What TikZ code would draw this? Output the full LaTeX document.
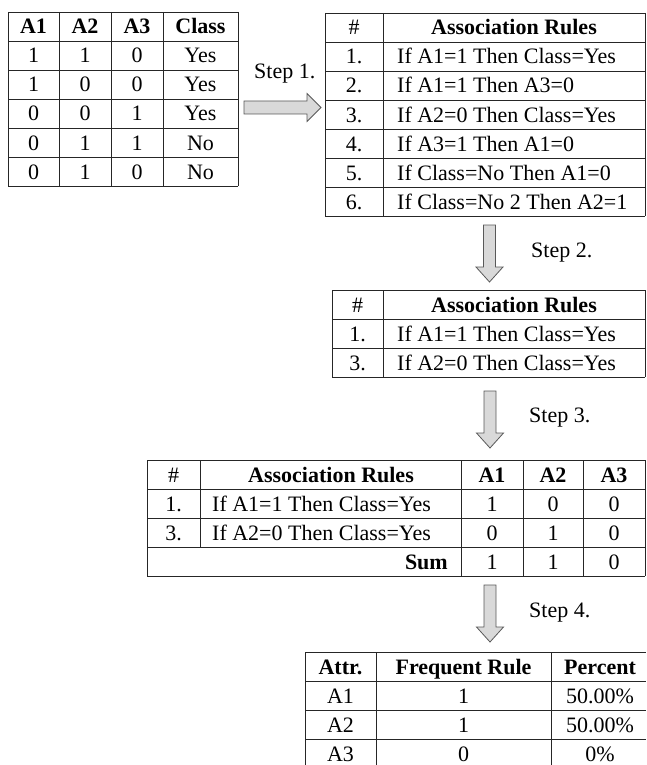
\documentclass[tikz,border=0pt]{standalone}
\usepackage{fontspec}
\setmainfont{Liberation Serif}
\begin{document}
\begin{tikzpicture}[x=1pt,y=-1pt,
  grid/.style={draw=black!85,line width=0.9pt},
  cell/.style={anchor=base,inner sep=0pt,font=\fontsize{22}{26}\selectfont},
  head/.style={cell,font=\fontsize{22}{26}\selectfont\bfseries},
  ruletext/.style={cell,anchor=base west},
  blockarrow/.style={draw=black!65,fill=black!15,line width=0.8pt,line join=miter},
  steplabel/.style={anchor=base west,inner sep=0pt,font=\fontsize{22}{26}\selectfont}]
\useasboundingbox (0,0) rectangle (646,765);

% ---------- Table 1 (data) ----------
\foreach \x in {8,59,111,163,238} \draw[grid] (\x,12) -- (\x,186);
\foreach \y in {12,41,70,99,128,157,186} \draw[grid] (8,\y) -- (238,\y);
\node[head] (t1hA) at (33.5,34) {A1};
\node[head] (t1hB) at (85,34) {A2};
\node[head] (t1hC) at (137,34) {A3};
\node[head] (t1hD) at (200.5,34) {Class};
\foreach [count=\r] \a/\b/\c/\d in {1/1/0/Yes,1/0/0/Yes,0/0/1/Yes,0/1/1/No,0/1/0/No}{
  \pgfmathsetmacro\yb{34+29*\r}
  \node[cell] (t1r\r a) at (33.5,\yb) {\a};
  \node[cell] (t1r\r b) at (85,\yb) {\b};
  \node[cell] (t1r\r c) at (137,\yb) {\c};
  \node[cell] (t1r\r d) at (200.5,\yb) {\d};
}

% ---------- Step 1 arrow ----------
\coordinate (s1a) at (244,107.5);
\coordinate (s1b) at (321,107.5);
\draw[blockarrow] ([yshift=-6.5pt]s1a) -- ([xshift=-14pt,yshift=-6.5pt]s1b) -- ([xshift=-14pt,yshift=-14pt]s1b)
  -- (s1b) -- ([xshift=-14pt,yshift=14pt]s1b) -- ([xshift=-14pt,yshift=6.5pt]s1b) -- ([yshift=6.5pt]s1a) -- cycle;
\node[steplabel] (step1) at (254,79) {Step 1.};

% ---------- Table 2 (all rules) ----------
\foreach \x in {325,383,645} \draw[grid] (\x,13) -- (\x,216);
\foreach \y in {13,42,71,100,129,158,187,216} \draw[grid] (325,\y) -- (645,\y);
\node[cell] (t2hn) at (354,35) {\#};
\node[head] (t2hr) at (514,35) {Association Rules};
\foreach [count=\r] \n/\t in {1./If A1=1 Then Class=Yes,2./If A1=1 Then A3=0,3./If A2=0 Then Class=Yes,4./If A3=1 Then A1=0,5./If Class=No Then A1=0,6./If Class=No 2 Then A2=1}{
  \pgfmathsetmacro\yb{35+29*\r}
  \node[cell] (t2n\r) at (354,\yb) {\n};
  \node[ruletext] (t2t\r) at (397,\yb) {\t};
}

% ---------- Step 2 arrow ----------
\draw[blockarrow] (483.5,225) -- (495.5,225) -- (495.5,267) -- (503,267) -- (489.5,282) -- (476,267) -- (483.5,267) -- cycle;
\node[steplabel] (step2) at (531,257) {Step 2.};

% ---------- Table 3 (selected rules) ----------
\foreach \x in {332,383,645} \draw[grid] (\x,290) -- (\x,377);
\foreach \y in {290,319,348,377} \draw[grid] (332,\y) -- (645,\y);
\node[cell] (t3hn) at (357.5,312) {\#};
\node[head] (t3hr) at (514,312) {Association Rules};
\node[cell] (t3n1) at (357.5,341) {1.};
\node[ruletext] (t3t1) at (397,341) {If A1=1 Then Class=Yes};
\node[cell] (t3n2) at (357.5,370) {3.};
\node[ruletext] (t3t2) at (397,370) {If A2=0 Then Class=Yes};

% ---------- Step 3 arrow ----------
\draw[blockarrow] (484,391) -- (496,391) -- (496,433) -- (503.5,433) -- (490,448) -- (476.5,433) -- (484,433) -- cycle;
\node[steplabel] (step3) at (529,422) {Step 3.};

% ---------- Table 4 (counts) ----------
\foreach \x in {147,461,523,583,645} \draw[grid] (\x,460) -- (\x,576);
\draw[grid] (200,460) -- (200,547);
\foreach \y in {460,489,518,547,576} \draw[grid] (147,\y) -- (645,\y);
\node[cell] (t4hn) at (173.5,482) {\#};
\node[head] (t4hr) at (331,482) {Association Rules};
\node[head] (t4hA) at (492,482) {A1};
\node[head] (t4hB) at (553,482) {A2};
\node[head] (t4hC) at (614,482) {A3};
\node[cell] (t4n1) at (173.5,511) {1.};
\node[ruletext] (t4t1) at (212,511) {If A1=1 Then Class=Yes};
\node[cell] (t4a1) at (492,511) {1};
\node[cell] (t4b1) at (553,511) {0};
\node[cell] (t4c1) at (614,511) {0};
\node[cell] (t4n2) at (173.5,540) {3.};
\node[ruletext] (t4t2) at (212,540) {If A2=0 Then Class=Yes};
\node[cell] (t4a2) at (492,540) {0};
\node[cell] (t4b2) at (553,540) {1};
\node[cell] (t4c2) at (614,540) {0};
\node[head,anchor=base east] (t4sum) at (448,569) {Sum};
\node[cell] (t4as) at (492,569) {1};
\node[cell] (t4bs) at (553,569) {1};
\node[cell] (t4cs) at (614,569) {0};

% ---------- Step 4 arrow ----------
\draw[blockarrow] (484,585) -- (496,585) -- (496,627) -- (503.5,627) -- (490,642) -- (476.5,627) -- (484,627) -- cycle;
\node[steplabel] (step4) at (529,617) {Step 4.};

% ---------- Table 5 (result) ----------
\foreach \x in {305,376,551} \draw[grid] (\x,652) -- (\x,765);
\foreach \y in {652,681,710,739} \draw[grid] (305,\y) -- (646,\y);
\node[head] (t5ha) at (340.5,674) {Attr.};
\node[head] (t5hf) at (463.5,674) {Frequent Rule};
\node[head] (t5hp) at (600,674) {Percent};
\foreach [count=\r] \a/\f/\p in {A1/1/50.00\%,A2/1/50.00\%,A3/0/0\%}{
  \pgfmathsetmacro\yb{674+29*\r}
  \node[cell] (t5a\r) at (340.5,\yb) {\a};
  \node[cell] (t5f\r) at (463.5,\yb) {\f};
  \node[cell] (t5p\r) at (600,\yb) {\p};
}
\end{tikzpicture}
\end{document}
